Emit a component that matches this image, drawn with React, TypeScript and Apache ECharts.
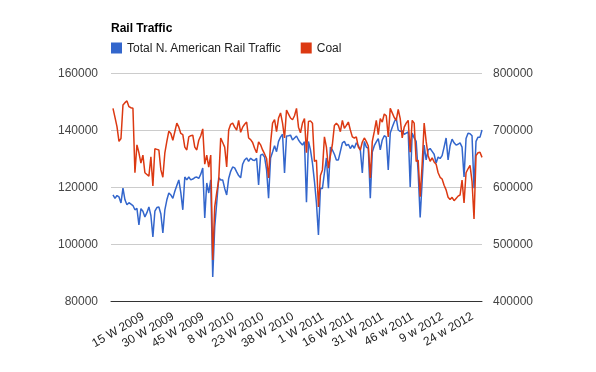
import React, { useEffect, useRef } from "react";
import * as echarts from "echarts";

// Weekly series, week 1 2009 .. week 30 2012 (186 weeks)
const totalRail: number[] = [
  117200, 116000, 117000, 116500, 114400, 119600, 115500, 113800, 114500, 114000,
  113500, 112000, 112500, 106700, 112400, 111500, 109500, 111000, 113000, 110000,
  102500, 111500, 112800, 113000, 110500, 103900, 112000, 115500, 117900, 117200,
  116000, 118500, 120500, 122500, 118000, 112000, 123500, 122500, 123500, 122500,
  122800, 123300, 123500, 123000, 124500, 126700, 109100, 121400, 117900, 122500,
  88400, 106000, 114400, 123200, 122500, 122500, 119500, 117200, 123000, 125500,
  127000, 126700, 125300, 124000, 123200, 128000, 129500, 130200, 129000, 130100,
  129500, 129300, 130100, 120700, 131200, 131500, 130500, 126000, 116100, 130200,
  132300, 134500, 132400, 136000, 137500, 138500, 124900, 137900, 138000, 138200,
  136500, 137200, 137900, 136500, 135500, 134700, 135900, 114700, 136000, 133000,
  128400, 122000, 114400, 103200, 119600, 119500, 125000, 130200, 119600, 134000,
  133000, 131500, 129500, 129500, 132500, 135500, 136000, 134500, 135000, 133500,
  134700, 133600, 135500, 134500, 133000, 124900, 136000, 134000, 133600, 116100,
  132300, 134500, 135800, 137000, 133000, 136500, 138000, 137500, 126000, 138900,
  141000, 142800, 144200, 140000, 139500, 139800, 138500, 138900, 139300, 120000,
  138900, 137200, 136000, 125000, 109300, 122000, 134700, 129500, 133000, 133500,
  132500, 131500, 128400, 130500, 130000, 131000, 134000, 137200, 129500, 134500,
  136800, 135500, 134700, 135000, 135500, 134000, 123500, 137000, 138900, 138700,
  138000, 119600, 136000, 137500, 137500, 140000,
];

const coal: number[] = [
  738000, 722000, 706000, 680000, 685000, 744000, 748000, 751000, 741000, 739000,
  738000, 625000, 674000, 660000, 642000, 656000, 625000, 622000, 619000, 653000,
  602000, 667000, 666000, 665000, 630000, 617000, 660000, 680000, 698000, 694000,
  682000, 697000, 712000, 705000, 694000, 692000, 670000, 665000, 688000, 690000,
  691000, 670000, 665000, 682000, 690000, 702000, 640000, 656000, 635000, 656000,
  472000, 565000, 590000, 612000, 686000, 678000, 670000, 635000, 700000, 710000,
  712000, 705000, 700000, 717000, 696000, 705000, 710000, 714000, 686000, 683000,
  678000, 668000, 660000, 679000, 674000, 665000, 658000, 650000, 616000, 677000,
  712000, 718000, 697000, 721000, 730000, 712000, 686000, 735000, 728000, 721000,
  718000, 725000, 738000, 705000, 695000, 712000, 720000, 660000, 715000, 716000,
  712000, 645000, 647000, 565000, 620000, 630000, 688000, 670000, 633000, 655000,
  675000, 708000, 712000, 708000, 697000, 717000, 703000, 708000, 714000, 700000,
  688000, 686000, 688000, 670000, 665000, 679000, 686000, 680000, 672000, 616000,
  680000, 697000, 717000, 692000, 720000, 714000, 728000, 725000, 688000, 738000,
  730000, 722000, 717000, 736000, 720000, 686000, 705000, 712000, 717000, 661000,
  717000, 712000, 645000, 647000, 583000, 640000, 712000, 680000, 655000, 645000,
  651000, 644000, 640000, 625000, 617000, 614000, 603000, 595000, 582000, 578000,
  582000, 576000, 580000, 584000, 586000, 612000, 572000, 625000, 632000, 638000,
  610000, 544000, 655000, 660000, 661000, 652000,
];

const yearWeeks: [number, number][] = [
  [2009, 52],
  [2010, 52],
  [2011, 52],
  [2012, 30],
];

const tickLabels = [
  "15 W 2009", "30 W 2009", "45 W 2009", "8 W 2010", "23 W 2010", "38 W 2010",
  "1 W 2011", "16 W 2011", "31 W 2011", "46 w 2011", "9 w 2012", "24 w 2012",
];

const categories: string[] = [];
yearWeeks.forEach(([y, n]) => {
  for (let w = 1; w <= n; w++) categories.push(`${w} W ${y}`);
});

const FONT = "Arial, 'Liberation Sans', sans-serif";

// one empty leading slot gives the small inset before the first week
const LEAD = 1;
// rotated labels sit slightly to the right of their week, as in the original
const LABEL_SHIFT = 1;
const FIRST_TICK = 14 + LEAD + LABEL_SHIFT;

export default function App() {
  const ref = useRef<HTMLDivElement>(null);
  useEffect(() => {
    if (!ref.current) return;
    const chart = echarts.init(ref.current, undefined, { renderer: "svg" });
    const pad = new Array(LEAD).fill(null);
    chart.setOption({
      animation: false,
      textStyle: { fontFamily: FONT },
      title: {
        text: "Rail Traffic",
        left: 106,
        top: 17,
        textStyle: { fontSize: 12, fontWeight: "bold", color: "#000", fontFamily: FONT },
      },
      legend: {
        left: 106,
        top: 37,
        icon: "rect",
        itemWidth: 11,
        itemHeight: 11,
        itemGap: 19,
        textStyle: { fontSize: 12, color: "#222", fontFamily: FONT },
        data: ["Total N. American Rail Traffic", "Coal"],
      },
      grid: { left: 111, right: 114, top: 73, bottom: 71, containLabel: false },
      xAxis: {
        type: "category",
        data: [...pad.map(() => ""), ...categories],
        boundaryGap: false,
        axisLine: { show: true, lineStyle: { color: "#333", width: 1 } },
        axisTick: { show: false },
        splitLine: { show: false },
        axisLabel: {
          rotate: 30,
          margin: 14,
          fontSize: 12,
          color: "#222",
          fontFamily: FONT,
          interval: (idx: number) => idx >= FIRST_TICK && (idx - FIRST_TICK) % 15 === 0,
          formatter: (_v: string, idx: number) =>
            tickLabels[(idx - FIRST_TICK) / 15] ?? "",
        },
      },
      yAxis: [
        {
          type: "value",
          min: 80000,
          max: 160000,
          interval: 20000,
          axisLine: { show: false },
          axisTick: { show: false },
          splitLine: { show: true, lineStyle: { color: "#cccccc", width: 1 } },
          axisLabel: {
            margin: 13,
            fontSize: 12,
            color: "#444",
            fontFamily: FONT,
            formatter: (v: number) => String(v),
          },
        },
        {
          type: "value",
          min: 400000,
          max: 800000,
          interval: 100000,
          axisLine: { show: false },
          axisTick: { show: false },
          splitLine: { show: false },
          axisLabel: {
            margin: 11,
            fontSize: 12,
            color: "#444",
            fontFamily: FONT,
            formatter: (v: number) => String(v),
          },
        },
      ],
      series: [
        {
          name: "Total N. American Rail Traffic",
          type: "line",
          yAxisIndex: 0,
          data: [...pad, ...totalRail],
          showSymbol: false,
          symbol: "none",
          lineStyle: { color: "#3366cc", width: 1.5 },
          itemStyle: { color: "#3366cc" },
        },
        {
          name: "Coal",
          type: "line",
          yAxisIndex: 1,
          data: [...pad, ...coal],
          showSymbol: false,
          symbol: "none",
          lineStyle: { color: "#dc3912", width: 1.5 },
          itemStyle: { color: "#dc3912" },
        },
      ],
    });
    return () => chart.dispose();
  }, []);
  return (
    <div
      ref={ref}
      style={{ position: "fixed", left: 0, top: 0, width: 596, height: 372 }}
    />
  );
}
